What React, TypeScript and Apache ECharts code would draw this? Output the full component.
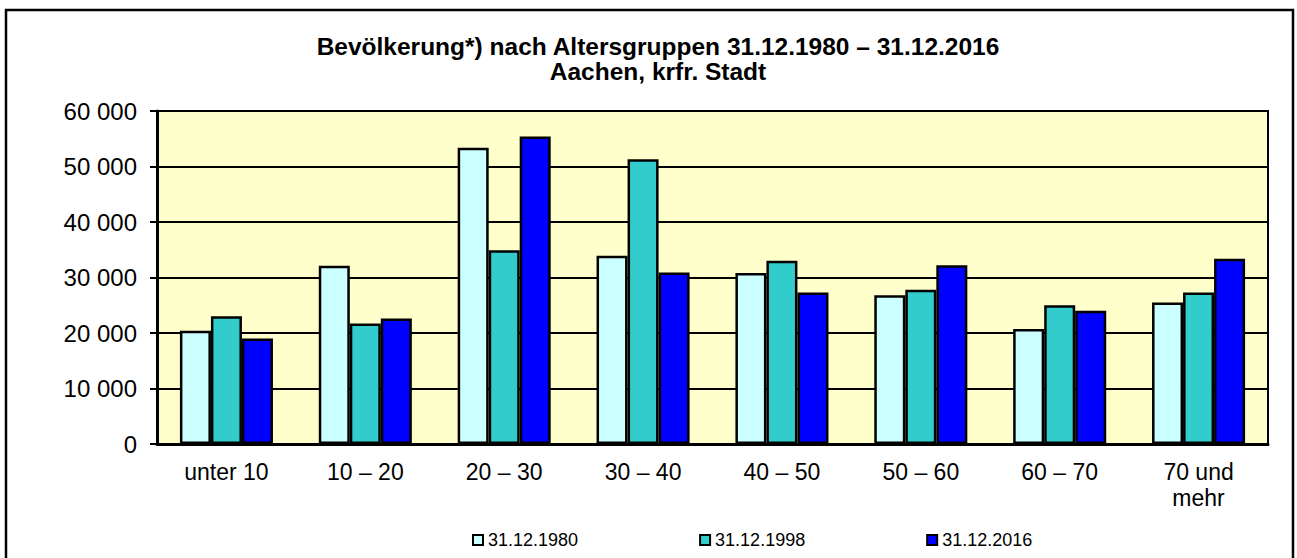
import React, { useEffect, useRef } from "react";
import * as echarts from "echarts";

const categories = ["unter 10", "10 – 20", "20 – 30", "30 – 40", "40 – 50", "50 – 60", "60 – 70", "70 und\nmehr"];
const seriesNames = ["31.12.1980", "31.12.1998", "31.12.2016"];
const values1980 = [20400, 32100, 53400, 33900, 30800, 26800, 20700, 25500];
const values1998 = [23000, 21700, 34900, 51300, 33000, 27800, 25000, 27300];
const values2016 = [19000, 22600, 55400, 30900, 27300, 32200, 24000, 33400];
const seriesColors = ["#CCFFFF", "#33CCCC", "#0000FF"];
const yTicks = { min: 0, max: 60000, interval: 10000 };
const titleLines = ["Bevölkerung*) nach Altersgruppen 31.12.1980 – 31.12.2016", "Aachen, krfr. Stadt"];

const FONT = "'Liberation Sans', Arial, sans-serif";

function fmt(v: number): string {
  return String(v).replace(/\B(?=(\d{3})+(?!\d))/g, " ");
}

export default function App() {
  const ref = useRef<HTMLDivElement>(null);
  useEffect(() => {
    if (!ref.current) return;
    const chart = echarts.init(ref.current, null, { renderer: "svg" });
    const allValues = [values1980, values1998, values2016];
    chart.setOption({
      animation: false,
      backgroundColor: "#ffffff",
      textStyle: { fontFamily: FONT },
      title: {
        text: titleLines.join("\n"),
        left: 653,
        textAlign: "center",
        top: 29,
        textStyle: { fontFamily: FONT, fontSize: 24.5, fontWeight: "bold", color: "#000", lineHeight: 25 },
      },
      graphic: [
        {
          type: "rect",
          shape: { x: 6, y: 10, width: 1287, height: 560 },
          style: { fill: "none", stroke: "#000", lineWidth: 2.5 },
          z: 100,
        },
      ],
      legend: {
        left: 467,
        top: 526,
        itemWidth: 10,
        itemHeight: 10,
        itemGap: 121,
        icon: "rect",
        textStyle: { fontFamily: FONT, fontSize: 18, color: "#000" },
        data: seriesNames,
      },
      grid: {
        left: 157,
        right: 29,
        top: 111,
        bottom: 114,
        show: true,
        backgroundColor: "#FFFFCC",
        borderColor: "#000",
        borderWidth: 2,
      },
      xAxis: {
        type: "category",
        data: categories,
        axisLine: { show: true, lineStyle: { color: "#000", width: 3 } },
        axisTick: { show: false },
        axisLabel: { fontFamily: FONT, fontSize: 23, color: "#000", margin: 15, lineHeight: 26, interval: 0 },
      },
      yAxis: {
        type: "value",
        min: yTicks.min,
        max: yTicks.max,
        interval: yTicks.interval,
        axisLine: { show: true, lineStyle: { color: "#000", width: 3 } },
        axisTick: { show: true, length: 7, lineStyle: { color: "#000", width: 2 } },
        splitLine: { show: true, lineStyle: { color: "#000", width: 2 } },
        axisLabel: { fontFamily: FONT, fontSize: 24, color: "#000", margin: 20, formatter: (v: number) => fmt(v) },
      },
      series: seriesNames.map((name, i) => ({
        name,
        type: "bar",
        data: allValues[i],
        barGap: "0%",
        barCategoryGap: "33%",
        itemStyle: { color: seriesColors[i], borderColor: "#000", borderWidth: 2.5 },
      })),
    });
    return () => chart.dispose();
  }, []);
  return <div ref={ref} style={{ position: "fixed", left: 0, top: 0, width: 1297, height: 558 }} />;
}
